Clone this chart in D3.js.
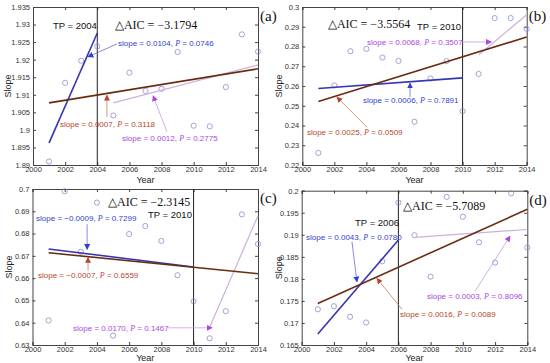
<!DOCTYPE html>
<html><head><meta charset="utf-8">
<script src="https://cdn.jsdelivr.net/npm/d3@7"></script>
<style>body{margin:0;background:#fff}svg{display:block}</style></head>
<body><svg id="c" width="550" height="363"></svg>
<script>
// ---------- DATA ----------
const years = [2001,2002,2003,2004,2005,2006,2007,2008,2009,2010,2011,2012,2013,2014];
const xTicks = [2000,2002,2004,2006,2008,2010,2012,2014];
const slopeA = [1.8910,1.9134,1.9197,1.9238,1.9041,1.9163,1.9111,1.9117,1.9222,1.9012,1.9010,1.9122,1.9272,1.9223];
const slopeB = [0.2261,0.2603,0.2776,0.2788,0.2744,0.2727,0.2419,0.2638,0.2726,0.2473,0.2661,0.2944,0.2944,0.2889];
const slopeC = [0.6410,0.6990,0.6718,0.6939,0.6342,0.6798,0.6834,0.6767,0.6613,0.6496,0.6330,0.6452,0.6886,0.6753];
const slopeD = [0.1731,0.1738,0.1714,0.1701,0.1840,0.1973,0.1899,0.1805,0.1986,0.1941,0.1883,0.1837,0.1994,0.1871];
const yTicksA = [1.89,1.895,1.9,1.905,1.91,1.915,1.92,1.925,1.93,1.935];
const yTicksB = [0.22,0.23,0.24,0.25,0.26,0.27,0.28,0.29,0.3];
const yTicksC = [0.63,0.64,0.65,0.66,0.67,0.68,0.69,0.7];
const yTicksD = [0.165,0.17,0.175,0.18,0.185,0.19,0.195,0.2];
const tpYears = [2004,2010,2010,2006];
const aicLabels = ["\u22123.1794","\u22123.5564","\u22122.3145","\u22125.7089"];
const panelTags = ["(a)","(b)","(c)","(d)"];
// fitted lines: [year0, value0, year1, value1]
const fitAll    = [[2001,1.9077,2014,1.9174],[2001,0.2522,2014,0.2848],[2001,0.6714,2014,0.6620],[2001,0.1744,2014,0.1958]];
const fitBefore = [[2001,1.8963,2004,1.9276],[2001,0.2587,2010,0.2641],[2001,0.6731,2010,0.6650],[2001,0.1675,2006,0.1888]];
const fitAfter  = [[2005,1.9077,2014,1.9185],[2011,0.2757,2014,0.2961],[2011,0.6380,2014,0.6880],[2007,0.1894,2014,0.1912]];
const slopeAllTxt    = ["0.0007","0.0025","\u22120.0007","0.0016"];
const pAllTxt        = ["0.3118","0.0509","0.6559","0.0089"];
const slopeBeforeTxt = ["0.0104","0.0006","\u22120.0009","0.0043"];
const pBeforeTxt     = ["0.0746","0.7891","0.7299","0.0780"];
const slopeAfterTxt  = ["0.0012","0.0068","0.0170","0.0003"];
const pAfterTxt      = ["0.2775","0.3507","0.1467","0.8096"];

// ---------- LAYOUT ----------
const boxes = [
  {x0:33, x1:258, y0:7, y1:165, yDom:[1.89,1.935], ylab:8, xlabY:183},
  {x0:302.3, x1:526.7, y0:7, y1:165, yDom:[0.22,0.3], ylab:279, xlabY:183},
  {x0:32.5, x1:258, y0:189, y1:345, yDom:[0.63,0.7], ylab:9, xlabY:361},
  {x0:301.7, x1:527.3, y0:190.7, y1:345, yDom:[0.165,0.2], ylab:279, xlabY:361}
];
// annotation anchors in data coordinates
const annot = [
  {tp:[2001.24,1.9287], aic:[2005.1,1.9287],
   bT:[2005.29,1.9239], bA:[[2005.23,1.9245],[2003.42,1.9208]],
   aT:[2001.68,1.9008], aA:[[2004.6,1.9037],[2004.6,1.9099]],
   fT:[2005.54,1.8968], fA:[[2008.34,1.8994],[2007.47,1.9097]]},
  {tp:[2007.16,0.2884], aic:[2001.6,0.2894],
   bT:[2003.78,0.2514], bA:[[2006.72,0.2544],[2006.72,0.2615]],
   aT:[2000.29,0.2352], aA:[[2004.03,0.2392],[2002.16,0.2544]],
   fT:[2004.04,0.2808], fA:[[2009.96,0.2823],[2011.8,0.2823]]},
  {tp:[2007.17,0.6869], aic:[2004.69,0.6923],
   bT:[2000.22,0.6855], bA:[[2003.39,0.6842],[2003.39,0.6729]],
   aT:[2000.34,0.6599], aA:[[2003.45,0.6634],[2003.45,0.6693]],
   fT:[2002.52,0.6364], fA:[[2008.42,0.6377],[2011.15,0.6377]]},
  {tp:[2003.31,0.1920], aic:[2006.29,0.1956],
   bT:[2000.27,0.1888], bA:[[2003.12,0.1884],[2003.43,0.1793]],
   aT:[2006.1,0.1713], aA:[[2006.22,0.1731],[2004.67,0.1801]],
   fT:[2007.77,0.1754], fA:[[2010.76,0.1772],[2012.93,0.1897]]}
];
const seriesList = [slopeA, slopeB, slopeC, slopeD];
const yTickList = [yTicksA, yTicksB, yTicksC, yTicksD];

const C = {blue:"#3535b5", blueTxt:"#2f3fd0", brown:"#6a2c10", red:"#b8452b",
           purple:"#a947e0", purpleLine:"#cdb0dc", circle:"#8c8cd0", axis:"#444"};
const SANS = "Liberation Sans, Arial, sans-serif", SERIF = "Liberation Serif, Times New Roman, serif";

const svg = d3.select("#c");
const defs = svg.append("defs");
[["blue",C.blueTxt],["red",C.red],["purple",C.purple]].forEach(([n,c])=>{
  defs.append("marker").attr("id","ah-"+n).attr("viewBox","0 0 10 10")
    .attr("refX",9).attr("refY",5).attr("markerWidth",6).attr("markerHeight",6)
    .attr("orient","auto-start-reverse").attr("markerUnits","userSpaceOnUse")
    .append("path").attr("d","M0,0 L10,5 L0,10 z").attr("fill",c);
});

boxes.forEach((b,i)=>{
  const x = d3.scaleLinear().domain([2000,2014]).range([b.x0,b.x1]);
  const y = d3.scaleLinear().domain(b.yDom).range([b.y1,b.y0]);
  const g = svg.append("g");
  const fmt = d => String(+d.toFixed(4));

  // axes (inward ticks, box)
  const axB = d3.axisBottom(x).tickValues(xTicks).tickSize(-3).tickPadding(2).tickFormat(d=>d);
  const axL = d3.axisLeft(y).tickValues(yTickList[i]).tickSize(-3).tickPadding(3).tickFormat(fmt);
  const axT = d3.axisTop(x).tickValues(xTicks).tickSize(-3).tickFormat("");
  const axR = d3.axisRight(y).tickValues(yTickList[i]).tickSize(-3).tickFormat("");
  const style = sel => { sel.select(".domain").attr("stroke",C.axis).attr("stroke-width",1);
    sel.selectAll(".tick line").attr("stroke",C.axis);
    sel.selectAll("text").attr("font-family",SANS).attr("font-size",7.5).attr("fill","#333"); };
  g.append("g").attr("transform",`translate(0,${b.y1})`).call(axB).call(style);
  g.append("g").attr("transform",`translate(${b.x0},0)`).call(axL).call(style);
  g.append("g").attr("transform",`translate(0,${b.y0})`).call(axT).call(style);
  g.append("g").attr("transform",`translate(${b.x1},0)`).call(axR).call(style);

  // axis titles
  g.append("text").attr("x",(b.x0+b.x1)/2).attr("y",b.xlabY).attr("text-anchor","middle")
    .attr("font-family",SANS).attr("font-size",9).attr("fill","#222").text("Year");
  g.append("text").attr("transform",`translate(${b.ylab},${(b.y0+b.y1)/2}) rotate(-90)`)
    .attr("text-anchor","middle").attr("dy","0.35em")
    .attr("font-family",SANS).attr("font-size",9).attr("fill","#222").text("Slope");

  // TP vertical line
  g.append("line").attr("x1",x(tpYears[i])).attr("x2",x(tpYears[i])).attr("y1",b.y0).attr("y2",b.y1)
    .attr("stroke","#222").attr("stroke-width",1);

  // points
  g.selectAll("circle").data(years.map((yr,k)=>[yr,seriesList[i][k]])).enter().append("circle")
    .attr("cx",d=>x(d[0])).attr("cy",d=>y(d[1])).attr("r",2.6)
    .attr("fill","none").attr("stroke",C.circle).attr("stroke-width",0.8);

  // fitted lines
  const seg = (f,col,w)=> g.append("line").attr("x1",x(f[0])).attr("y1",y(f[1])).attr("x2",x(f[2])).attr("y2",y(f[3]))
      .attr("stroke",col).attr("stroke-width",w);
  seg(fitAfter[i], C.purpleLine, 1.2);
  seg(fitBefore[i], C.blue, 1.6);
  seg(fitAll[i], C.brown, 1.6);

  // texts
  const a = annot[i];
  g.append("text").attr("x",x(a.tp[0])).attr("y",y(a.tp[1])).attr("font-family",SANS)
    .attr("font-size",9.5).attr("fill","#111").text("TP = "+tpYears[i]);
  g.append("text").attr("x",x(a.aic[0])).attr("y",y(a.aic[1])).attr("font-family",SERIF)
    .attr("font-size",12).attr("fill","#111").text("\u25B3AIC = "+aicLabels[i]);
  g.append("text").attr("x",b.x1+2).attr("y",b.y0+14).attr("font-family",SERIF)
    .attr("font-size",15).attr("fill","#111").text(panelTags[i]);

  const label = (pos,s,p,col)=>{
    const t = g.append("text").attr("x",x(pos[0])).attr("y",y(pos[1]))
      .attr("font-family",SANS).attr("font-size",8).attr("fill",col);
    t.append("tspan").text("slope = "+s+", ");
    t.append("tspan").attr("font-style","italic").attr("font-family",SERIF).text("P");
    t.append("tspan").text(" = "+p);
  };
  const arrow = (pts,col,m)=> g.append("line").attr("x1",x(pts[0][0])).attr("y1",y(pts[0][1]))
      .attr("x2",x(pts[1][0])).attr("y2",y(pts[1][1])).attr("stroke",col).attr("stroke-width",0.8)
      .attr("marker-end",`url(#ah-${m})`);
  label(a.bT, slopeBeforeTxt[i], pBeforeTxt[i], C.blueTxt);
  arrow(a.bA, "#6a6ad8", "blue");
  label(a.aT, slopeAllTxt[i], pAllTxt[i], C.red);
  arrow(a.aA, "#c97a5e", "red");
  label(a.fT, slopeAfterTxt[i], pAfterTxt[i], C.purple);
  arrow(a.fA, "#c79be6", "purple");
});
</script></body></html>
